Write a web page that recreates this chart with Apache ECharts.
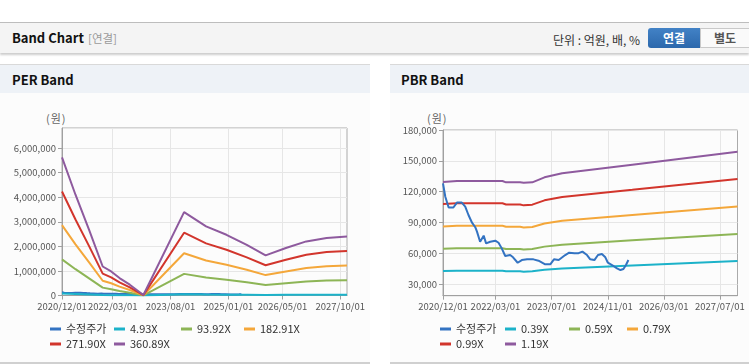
<!DOCTYPE html>
<html><head><meta charset="utf-8">
<script src="https://cdn.jsdelivr.net/npm/echarts@6/dist/echarts.min.js"></script>
<style>
html,body{margin:0;padding:0;background:#fff;width:749px;height:364px;overflow:hidden;font-family:"Noto Sans CJK KR","Noto Sans",sans-serif;}
.abs{position:absolute;}
#topbar{left:0;top:22px;width:749px;height:30px;background:#f4f4f4;border-top:1px solid #bdbdbd;box-shadow:0 2px 2px rgba(0,0,0,0.2);}
#title{left:12px;top:29px;font-size:13px;font-weight:bold;color:#111;line-height:18px;}
#sub{left:88px;top:30px;font-size:11.5px;color:#9a9a9a;line-height:17px;}
#unit{left:553px;top:31px;font-size:12px;color:#333;line-height:17px;}
#b1{left:648px;top:28px;width:52px;height:20px;border-radius:3px 0 0 3px;background:linear-gradient(#4282c6,#2c68ac);color:#fff;font-size:12px;font-weight:bold;text-align:center;line-height:20px;}
#b2{left:700px;top:28px;width:52px;height:18px;border:1px solid #c9c9c9;background:#fafafa;color:#555;font-size:12px;font-weight:bold;text-align:left;padding-left:13px;box-sizing:content-box;line-height:18px;}
.panel{top:64px;height:297px;background:#fcfcfc;border-top:1px solid #d9d9d9;border-bottom:2px solid #d0d0d0;}
.phead{left:0;top:0;right:0;height:28px;background:#eef2f7;}
.ptitle{top:6px;font-size:13px;font-weight:bold;color:#111;line-height:18px;}
.unitlbl{font-size:11px;color:#666;line-height:14px;letter-spacing:1px;}
#chart{left:0;top:0;width:749px;height:364px;}
</style></head>
<body>
<div id="topbar" class="abs"></div>
<div id="title" class="abs">Band Chart</div>
<div id="sub" class="abs">[연결]</div>
<div id="unit" class="abs">단위 : 억원, 배, %</div>
<div id="b1" class="abs">연결</div>
<div id="b2" class="abs">별도</div>
<div class="abs panel" style="left:0;width:370px;"><div class="abs phead"></div><div class="abs ptitle" style="left:12px;">PER Band</div></div>
<div class="abs panel" style="left:390px;width:359px;"><div class="abs phead"></div><div class="abs ptitle" style="left:11px;">PBR Band</div></div>
<div class="abs unitlbl" style="left:46px;top:111px;">(원)</div>
<div class="abs unitlbl" style="left:427px;top:111px;">(원)</div>
<div id="chart" class="abs"></div>
<script>
// ---------- data ----------
const perXTicks = ['2020/12/01','2022/03/01','2023/08/01','2025/01/01','2026/05/01','2027/10/01'];
const pbrXTicks = ['2020/12/01','2022/03/01','2023/07/01','2024/11/01','2026/03/01','2027/07/01'];
const pbrYTicks = [30000,60000,90000,120000,150000,180000];

const priceDates = ['2020/12/01','2020/12/21','2021/01/19','2021/03/01','2021/04/01','2021/05/13','2021/06/12','2021/07/10','2021/08/10','2021/09/07','2021/09/22','2021/10/19','2021/11/19','2021/12/10','2022/01/15','2022/02/28','2022/03/28','2022/04/25','2022/05/25','2022/07/07','2022/08/01','2022/09/10','2022/10/16','2022/12/01','2023/01/25','2023/03/10','2023/05/07','2023/06/20','2023/07/22','2023/09/01','2023/10/28','2023/12/01','2024/01/16','2024/02/21','2024/03/25','2024/05/04','2024/06/01','2024/07/07','2024/08/07','2024/09/10','2024/10/10','2024/11/01','2024/12/07','2025/01/19','2025/02/18','2025/03/16','2025/04/07','2025/04/28'];
const priceValues = [128000,115000,104500,104500,109300,109300,105400,97200,89700,85300,81000,71200,77100,69600,71200,72200,70200,64700,57300,58200,56000,50700,53300,54000,54000,52700,49200,49200,54000,53300,58200,60500,60000,60000,61500,58200,54000,53300,58200,59200,56000,50700,48500,45200,43600,44600,48500,53400];

const perDates = ['2020/12/01','2021/04/01','2021/08/01','2021/12/01','2022/02/15','2022/05/01','2022/08/01','2022/12/01','2023/12/01','2024/06/15','2024/12/15','2025/06/15','2025/12/01','2026/06/01','2026/12/01','2027/06/01','2027/12/01'];
const per493   = [77000,56000,36000,16000,13000,10000,6000,300,46000,38000,34000,28000,22000,26000,30000,32000,33000];
const per9392  = [1470000,1070000,695000,320000,255000,185000,115000,5000,880000,730000,645000,535000,425000,500000,570000,610000,625000];
const per18291 = [2860000,2080000,1350000,600000,500000,360000,225000,10000,1720000,1425000,1250000,1045000,830000,980000,1115000,1185000,1220000];
const per27190 = [4230000,3090000,2010000,890000,740000,535000,330000,15000,2555000,2120000,1860000,1550000,1230000,1455000,1660000,1765000,1810000];
const per36089 = [5620000,4100000,2670000,1180000,980000,710000,440000,20000,3390000,2810000,2470000,2060000,1630000,1930000,2200000,2340000,2400000];

const pbrDates = ['2020/12/01','2021/04/01','2022/05/01','2022/06/01','2022/10/01','2022/11/01','2023/01/15','2023/05/01','2023/10/01','2025/06/01','2027/12/01'];
const pbr039 = [42600,42900,42900,42400,42400,42000,42400,43900,45200,47900,52300];
const pbr059 = [64300,64800,64800,64000,64000,63500,64000,66400,68300,72500,78800];
const pbr079 = [86100,86700,86700,85800,85800,85000,85600,89000,91500,97100,105500];
const pbr099 = [107900,108600,108600,107500,107500,106600,107300,111500,114700,121700,132200];
const pbr119 = [129400,130300,130300,129000,129000,128600,129000,133900,137800,146200,158900];

const perNames = ['수정주가','4.93X','93.92X','182.91X','271.90X','360.89X'];
const pbrNames = ['수정주가','0.39X','0.59X','0.79X','0.99X','1.19X'];
const colors = ['#3373c2','#1cb2c9','#8db556','#f4a73a','#d2352c','#8e5a9e'];

// ---------- helpers ----------
function ts(s){const p=s.split('/');return Date.UTC(+p[0],+p[1]-1,+p[2]);}
function pad(n){return (n<10?'0':'')+n;}
function fmtDate(v){const d=new Date(v);return d.getUTCFullYear()+'/'+pad(d.getUTCMonth()+1)+'/'+pad(d.getUTCDate());}
function commas(v){return String(Math.round(v)).replace(/\B(?=(\d{3})+(?!\d))/g,',');}
function pairs(dates,vals){return dates.map((d,i)=>[ts(d),vals[i]]);}

const FONT = '"Noto Sans CJK KR","Noto Sans",sans-serif';
const axisGray = '#a0a0a0';
const splitGray = '#e6e6e6';
const labelStyle = {color:'#555',fontSize:9.5,fontFamily:FONT};

function xAxisFor(gi, ticks){
  const tv = ticks.map(ts);
  return {type:'value',gridIndex:gi,min:ts('2020/12/01'),max:ts('2027/12/01'),
    axisLine:{show:true,lineStyle:{color:axisGray}},
    axisTick:{show:true,length:4,customValues:tv,lineStyle:{color:axisGray}},
    axisLabel:Object.assign({customValues:tv,formatter:fmtDate,margin:6},labelStyle),
    splitLine:{show:true,lineStyle:{color:splitGray}}};
}

function series(name, data, xi, color, z){
  return {type:'line',name:name,xAxisIndex:xi,yAxisIndex:xi,data:data,showSymbol:false,symbol:'none',
    lineStyle:{width:2,color:color},itemStyle:{color:color},z:z||2,animation:false,silent:true};
}

const perSeries = [per493,per9392,per18291,per27190,per36089];
const pbrSeries = [pbr039,pbr059,pbr079,pbr099,pbr119];

const allSeries = [];
perSeries.forEach((v,i)=>allSeries.push(series(perNames[i+1],pairs(perDates,v),0,colors[i+1],2)));
allSeries.push(series(perNames[0],pairs(priceDates,priceValues),0,colors[0],1));
pbrSeries.forEach((v,i)=>allSeries.push(series(pbrNames[i+1],pairs(pbrDates,v),1,colors[i+1],2)));
allSeries.push(series(pbrNames[0],pairs(priceDates,priceValues),1,colors[0],3));

// legends: one per item
const legends = [];
function addLegend(name, left, top){
  legends.push({data:[name],left:left,top:top,padding:0,itemWidth:11,itemHeight:3,icon:'rect',
    selectedMode:false,textStyle:{fontSize:11,color:'#333',fontFamily:FONT,lineHeight:14}});
}
const perLegPos = [[50,322],[114,322],[181,322],[244,322],[50,337],[114,337]];
const pbrLegPos = [[440,322],[505,322],[569,322],[627,322],[440,337],[505,337]];
perNames.forEach((n,i)=>addLegend(n,perLegPos[i][0],perLegPos[i][1]));
pbrNames.forEach((n,i)=>addLegend(n,pbrLegPos[i][0],pbrLegPos[i][1]));

const chart = echarts.init(document.getElementById('chart'),null,{renderer:'canvas'});
chart.setOption({
  backgroundColor:'transparent',
  animation:false,
  textStyle:{fontFamily:FONT},
  grid:[
    {left:62,top:128,width:285,height:167.5,show:true,borderColor:'#aaaaaa',borderWidth:1,backgroundColor:'transparent',containLabel:false,outerBoundsMode:'none'},
    {left:443,top:130,width:294.5,height:165.7,show:true,borderColor:'#aaaaaa',borderWidth:1,backgroundColor:'transparent',containLabel:false,outerBoundsMode:'none'}
  ],
  xAxis:[xAxisFor(0,perXTicks),xAxisFor(1,pbrXTicks)],
  yAxis:[
    {type:'value',gridIndex:0,min:0,max:6814000,interval:1000000,
      axisLine:{show:true,lineStyle:{color:axisGray}},
      axisTick:{show:true,length:4,lineStyle:{color:axisGray}},
      axisLabel:Object.assign({formatter:commas,showMaxLabel:false,margin:6},labelStyle),
      splitLine:{show:true,lineStyle:{color:splitGray}}},
    {type:'value',gridIndex:1,min:18600,max:180000,
      axisLine:{show:true,lineStyle:{color:axisGray}},
      axisTick:{show:true,length:4,customValues:pbrYTicks,lineStyle:{color:axisGray}},
      axisLabel:Object.assign({customValues:pbrYTicks,formatter:commas,margin:6},labelStyle),
      splitLine:{show:true,lineStyle:{color:splitGray}}}
  ],
  legend:legends,
  series:allSeries
});
</script>
</body></html>
